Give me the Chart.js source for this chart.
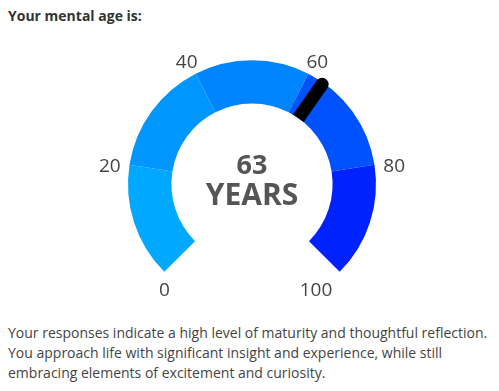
<!DOCTYPE html>
<html>
<head>
<meta charset="utf-8">
<script src="https://cdn.jsdelivr.net/npm/chart.js@4.4.1/dist/chart.umd.min.js"></script>
<style>
  body { margin: 0; background: #fff; font-family: 'Open Sans', sans-serif; }
  #title { position: absolute; left: 8px; top: 6px; font-size: 14px; line-height: 20px; font-weight: bold; color: #333; }
  #gauge { position: absolute; left: 0; top: 0; }
  #text { position: absolute; left: 8px; top: 323px; font-size: 14px; line-height: 20px; color: #444; white-space: nowrap; }
</style>
</head>
<body>
<div id="title">Your mental age is:</div>
<canvas id="gauge" width="499" height="310"></canvas>
<div id="text">Your responses indicate a high level of maturity and thoughtful reflection.<br>You approach life with significant insight and experience, while still<br>embracing elements of excitement and curiosity.</div>
<script>
// gauge bands (each 20 years wide)
const bandLabels = ['0-20', '20-40', '40-60', '60-80', '80-100'];
const bandValues = [20, 20, 20, 20, 20];
const bandColors = ['#00a8ff', '#0096ff', '#0085ff', '#0052ff', '#0022ff'];
const tickValues = [0, 20, 40, 60, 80, 100];
const tickLabels = ['0', '20', '40', '60', '80', '100'];
const mentalAge = 63;
const ageUnit = 'YEARS';

const total = bandValues.reduce((a, b) => a + b, 0);

// turns a value on the 0..100 scale into a canvas angle, using the drawn arcs
function valueAngle(meta, v) {
  const first = meta.data[0];
  const last = meta.data[meta.data.length - 1];
  return first.startAngle + (last.endAngle - first.startAngle) * v / total;
}

const gaugeParts = {
  id: 'gaugeParts',
  afterDatasetsDraw(chart) {
    const ctx = chart.ctx;
    const meta = chart.getDatasetMeta(0);
    const arc = meta.data[0];
    const cx = arc.x, cy = arc.y;
    const rIn = arc.innerRadius, rOut = arc.outerRadius;

    // needle
    const a = valueAngle(meta, mentalAge);
    const r2 = rOut - 2;
    ctx.save();
    ctx.strokeStyle = '#000';
    ctx.fillStyle = '#000';
    ctx.lineWidth = 13;
    ctx.lineCap = 'butt';
    ctx.beginPath();
    ctx.moveTo(cx + Math.cos(a) * rIn, cy + Math.sin(a) * rIn);
    ctx.lineTo(cx + Math.cos(a) * r2, cy + Math.sin(a) * r2);
    ctx.stroke();
    ctx.beginPath();
    ctx.arc(cx + Math.cos(a) * r2, cy + Math.sin(a) * r2, 6.5, 0, Math.PI * 2);
    ctx.fill();

    // scale labels
    ctx.fillStyle = '#444';
    ctx.font = '19px "Open Sans"';
    ctx.textAlign = 'center';
    ctx.textBaseline = 'middle';
    tickValues.forEach((v, i) => {
      const t = valueAngle(meta, v);
      let x = cx + Math.cos(t) * (rOut + 20);
      let y = cy + Math.sin(t) * (rOut + 17) + 4;
      if (v === 0) { x = cx - rOut * 0.707; y = cy + rOut * 0.707 + 19; }
      if (v === total) { x = cx + rIn * 0.707 + 7; y = cy + rOut * 0.707 + 19; }
      ctx.fillText(tickLabels[i], x, y);
    });

    // centre text
    ctx.fillStyle = '#555';
    ctx.font = 'bold 27px "Open Sans"';
    ctx.fillText(String(mentalAge), cx, cy - 18);
    ctx.font = 'bold 30px "Open Sans"';
    ctx.fillText(ageUnit, cx, cy + 12);
    ctx.restore();
  }
};

new Chart(document.getElementById('gauge').getContext('2d'), {
  type: 'doughnut',
  data: {
    labels: bandLabels,
    datasets: [{
      data: bandValues,
      backgroundColor: bandColors,
      borderWidth: 0
    }]
  },
  options: {
    responsive: false,
    animation: false,
    rotation: -135,
    circumference: 270,
    cutout: '65%',
    layout: { padding: { left: 128, right: 123, top: 60, bottom: 38 } },
    plugins: {
      legend: { display: false },
      tooltip: { enabled: false }
    }
  },
  plugins: [gaugeParts]
});
</script>
</body>
</html>
